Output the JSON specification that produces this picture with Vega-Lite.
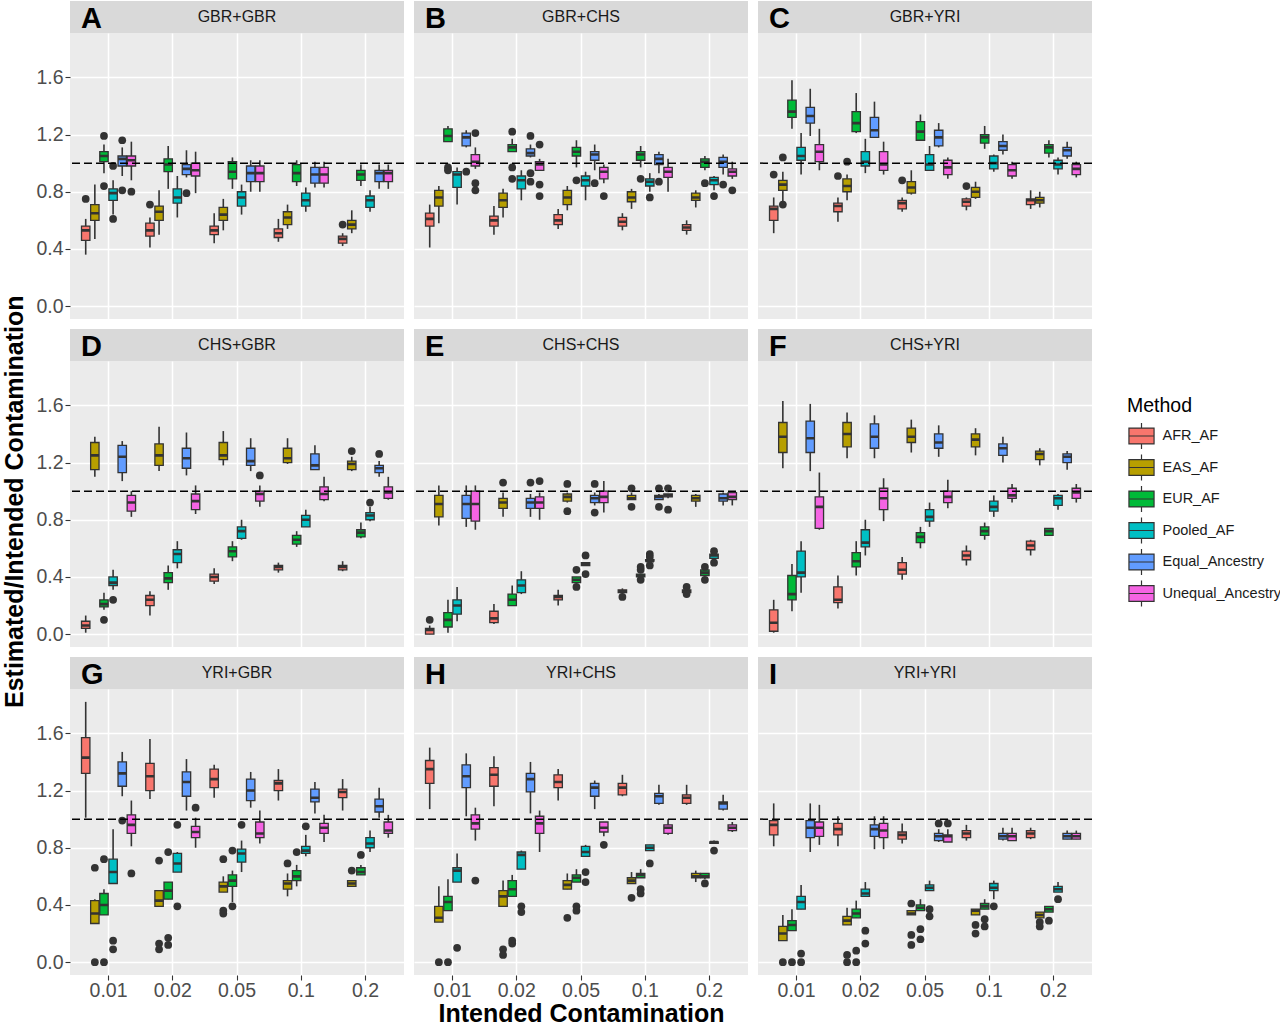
{
  "$schema": "https://vega.github.io/schema/vega-lite/v6.json",
  "background": "#FFFFFF",
  "padding": {"left": 2, "top": 1, "right": 0, "bottom": 0},
  "title": {"text": "Estimated/Intended Contamination", "orient": "left", "anchor": "middle", "font": "Liberation Sans", "fontSize": 25, "fontWeight": "bold", "color": "#000000", "offset": 8, "dx": 12},
  "datasets": {
    "strips": [
      {"p": "A", "label": "GBR+GBR"}, {"p": "B", "label": "GBR+CHS"}, {"p": "C", "label": "GBR+YRI"},
      {"p": "D", "label": "CHS+GBR"}, {"p": "E", "label": "CHS+CHS"}, {"p": "F", "label": "CHS+YRI"},
      {"p": "G", "label": "YRI+GBR"}, {"p": "H", "label": "YRI+CHS"}, {"p": "I", "label": "YRI+YRI"}
    ],
    "refline": [{"ref": 1}],
    "boxes": [
      {"p":"A","c":"0.01","m":"AFR_AF","lo":0.36,"q1":0.46,"md":0.53,"q3":0.56,"hi":0.61},
      {"p":"A","c":"0.01","m":"EAS_AF","lo":0.47,"q1":0.60,"md":0.65,"q3":0.71,"hi":0.85},
      {"p":"A","c":"0.01","m":"EUR_AF","lo":0.93,"q1":1.01,"md":1.05,"q3":1.08,"hi":1.13},
      {"p":"A","c":"0.01","m":"Pooled_AF","lo":0.64,"q1":0.74,"md":0.79,"q3":0.82,"hi":0.88},
      {"p":"A","c":"0.01","m":"Equal_Ancestry","lo":0.91,"q1":0.98,"md":1.03,"q3":1.05,"hi":1.11},
      {"p":"A","c":"0.01","m":"Unequal_Ancestry","lo":0.88,"q1":0.98,"md":1.02,"q3":1.05,"hi":1.15},
      {"p":"A","c":"0.02","m":"AFR_AF","lo":0.41,"q1":0.49,"md":0.53,"q3":0.58,"hi":0.62},
      {"p":"A","c":"0.02","m":"EAS_AF","lo":0.50,"q1":0.60,"md":0.66,"q3":0.70,"hi":0.81},
      {"p":"A","c":"0.02","m":"EUR_AF","lo":0.82,"q1":0.94,"md":0.99,"q3":1.03,"hi":1.12},
      {"p":"A","c":"0.02","m":"Pooled_AF","lo":0.62,"q1":0.72,"md":0.76,"q3":0.82,"hi":0.91},
      {"p":"A","c":"0.02","m":"Equal_Ancestry","lo":0.90,"q1":0.92,"md":0.96,"q3":0.99,"hi":1.09},
      {"p":"A","c":"0.02","m":"Unequal_Ancestry","lo":0.79,"q1":0.91,"md":0.95,"q3":1.00,"hi":1.08},
      {"p":"A","c":"0.05","m":"AFR_AF","lo":0.44,"q1":0.50,"md":0.53,"q3":0.56,"hi":0.65},
      {"p":"A","c":"0.05","m":"EAS_AF","lo":0.53,"q1":0.60,"md":0.64,"q3":0.69,"hi":0.75},
      {"p":"A","c":"0.05","m":"EUR_AF","lo":0.82,"q1":0.89,"md":0.94,"q3":1.01,"hi":1.04},
      {"p":"A","c":"0.05","m":"Pooled_AF","lo":0.64,"q1":0.70,"md":0.76,"q3":0.80,"hi":0.85},
      {"p":"A","c":"0.05","m":"Equal_Ancestry","lo":0.80,"q1":0.87,"md":0.93,"q3":0.98,"hi":1.02},
      {"p":"A","c":"0.05","m":"Unequal_Ancestry","lo":0.80,"q1":0.87,"md":0.93,"q3":0.98,"hi":1.02},
      {"p":"A","c":"0.1","m":"AFR_AF","lo":0.45,"q1":0.48,"md":0.51,"q3":0.54,"hi":0.61},
      {"p":"A","c":"0.1","m":"EAS_AF","lo":0.54,"q1":0.57,"md":0.62,"q3":0.66,"hi":0.71},
      {"p":"A","c":"0.1","m":"EUR_AF","lo":0.84,"q1":0.87,"md":0.93,"q3":0.99,"hi":1.02},
      {"p":"A","c":"0.1","m":"Pooled_AF","lo":0.66,"q1":0.70,"md":0.74,"q3":0.79,"hi":0.83},
      {"p":"A","c":"0.1","m":"Equal_Ancestry","lo":0.83,"q1":0.86,"md":0.92,"q3":0.97,"hi":1.01},
      {"p":"A","c":"0.1","m":"Unequal_Ancestry","lo":0.83,"q1":0.86,"md":0.92,"q3":0.97,"hi":1.01},
      {"p":"A","c":"0.2","m":"AFR_AF","lo":0.42,"q1":0.44,"md":0.47,"q3":0.49,"hi":0.51},
      {"p":"A","c":"0.2","m":"EAS_AF","lo":0.51,"q1":0.54,"md":0.57,"q3":0.60,"hi":0.67},
      {"p":"A","c":"0.2","m":"EUR_AF","lo":0.84,"q1":0.88,"md":0.92,"q3":0.95,"hi":0.99},
      {"p":"A","c":"0.2","m":"Pooled_AF","lo":0.66,"q1":0.69,"md":0.74,"q3":0.77,"hi":0.81},
      {"p":"A","c":"0.2","m":"Equal_Ancestry","lo":0.82,"q1":0.87,"md":0.93,"q3":0.95,"hi":0.99},
      {"p":"A","c":"0.2","m":"Unequal_Ancestry","lo":0.82,"q1":0.87,"md":0.93,"q3":0.95,"hi":0.99},

      {"p":"B","c":"0.01","m":"AFR_AF","lo":0.41,"q1":0.56,"md":0.61,"q3":0.65,"hi":0.71},
      {"p":"B","c":"0.01","m":"EAS_AF","lo":0.58,"q1":0.70,"md":0.76,"q3":0.81,"hi":0.84},
      {"p":"B","c":"0.01","m":"EUR_AF","lo":1.15,"q1":1.15,"md":1.19,"q3":1.24,"hi":1.26},
      {"p":"B","c":"0.01","m":"Pooled_AF","lo":0.71,"q1":0.83,"md":0.92,"q3":0.94,"hi":0.97},
      {"p":"B","c":"0.01","m":"Equal_Ancestry","lo":1.11,"q1":1.12,"md":1.18,"q3":1.21,"hi":1.23},
      {"p":"B","c":"0.01","m":"Unequal_Ancestry","lo":0.96,"q1":0.98,"md":1.01,"q3":1.06,"hi":1.11},
      {"p":"B","c":"0.02","m":"AFR_AF","lo":0.50,"q1":0.56,"md":0.60,"q3":0.63,"hi":0.70},
      {"p":"B","c":"0.02","m":"EAS_AF","lo":0.62,"q1":0.69,"md":0.74,"q3":0.79,"hi":0.82},
      {"p":"B","c":"0.02","m":"EUR_AF","lo":1.08,"q1":1.08,"md":1.11,"q3":1.13,"hi":1.17},
      {"p":"B","c":"0.02","m":"Pooled_AF","lo":0.74,"q1":0.82,"md":0.88,"q3":0.91,"hi":0.95},
      {"p":"B","c":"0.02","m":"Equal_Ancestry","lo":1.04,"q1":1.05,"md":1.07,"q3":1.10,"hi":1.13},
      {"p":"B","c":"0.02","m":"Unequal_Ancestry","lo":0.95,"q1":0.95,"md":0.99,"q3":1.01,"hi":1.03},
      {"p":"B","c":"0.05","m":"AFR_AF","lo":0.54,"q1":0.57,"md":0.60,"q3":0.64,"hi":0.68},
      {"p":"B","c":"0.05","m":"EAS_AF","lo":0.67,"q1":0.71,"md":0.76,"q3":0.81,"hi":0.84},
      {"p":"B","c":"0.05","m":"EUR_AF","lo":0.97,"q1":1.05,"md":1.08,"q3":1.11,"hi":1.16},
      {"p":"B","c":"0.05","m":"Pooled_AF","lo":0.74,"q1":0.84,"md":0.88,"q3":0.91,"hi":0.94},
      {"p":"B","c":"0.05","m":"Equal_Ancestry","lo":0.95,"q1":1.02,"md":1.06,"q3":1.08,"hi":1.13},
      {"p":"B","c":"0.05","m":"Unequal_Ancestry","lo":0.86,"q1":0.89,"md":0.94,"q3":0.97,"hi":0.99},
      {"p":"B","c":"0.1","m":"AFR_AF","lo":0.53,"q1":0.56,"md":0.59,"q3":0.62,"hi":0.65},
      {"p":"B","c":"0.1","m":"EAS_AF","lo":0.68,"q1":0.73,"md":0.76,"q3":0.80,"hi":0.82},
      {"p":"B","c":"0.1","m":"EUR_AF","lo":0.97,"q1":1.02,"md":1.06,"q3":1.08,"hi":1.12},
      {"p":"B","c":"0.1","m":"Pooled_AF","lo":0.80,"q1":0.84,"md":0.87,"q3":0.89,"hi":0.93},
      {"p":"B","c":"0.1","m":"Equal_Ancestry","lo":0.93,"q1":0.99,"md":1.03,"q3":1.06,"hi":1.08},
      {"p":"B","c":"0.1","m":"Unequal_Ancestry","lo":0.80,"q1":0.90,"md":0.94,"q3":0.97,"hi":1.03},
      {"p":"B","c":"0.2","m":"AFR_AF","lo":0.50,"q1":0.53,"md":0.55,"q3":0.57,"hi":0.60},
      {"p":"B","c":"0.2","m":"EAS_AF","lo":0.69,"q1":0.74,"md":0.76,"q3":0.79,"hi":0.81},
      {"p":"B","c":"0.2","m":"EUR_AF","lo":0.95,"q1":0.97,"md":1.01,"q3":1.03,"hi":1.05},
      {"p":"B","c":"0.2","m":"Pooled_AF","lo":0.81,"q1":0.85,"md":0.88,"q3":0.90,"hi":0.91},
      {"p":"B","c":"0.2","m":"Equal_Ancestry","lo":0.92,"q1":0.97,"md":1.01,"q3":1.04,"hi":1.06},
      {"p":"B","c":"0.2","m":"Unequal_Ancestry","lo":0.89,"q1":0.91,"md":0.94,"q3":0.96,"hi":1.01},

      {"p":"C","c":"0.01","m":"AFR_AF","lo":0.51,"q1":0.60,"md":0.68,"q3":0.70,"hi":0.76},
      {"p":"C","c":"0.01","m":"EAS_AF","lo":0.73,"q1":0.81,"md":0.85,"q3":0.88,"hi":0.94},
      {"p":"C","c":"0.01","m":"EUR_AF","lo":1.24,"q1":1.32,"md":1.36,"q3":1.44,"hi":1.58},
      {"p":"C","c":"0.01","m":"Pooled_AF","lo":0.92,"q1":1.02,"md":1.05,"q3":1.11,"hi":1.21},
      {"p":"C","c":"0.01","m":"Equal_Ancestry","lo":1.19,"q1":1.28,"md":1.33,"q3":1.39,"hi":1.52},
      {"p":"C","c":"0.01","m":"Unequal_Ancestry","lo":0.95,"q1":1.01,"md":1.08,"q3":1.13,"hi":1.24},
      {"p":"C","c":"0.02","m":"AFR_AF","lo":0.59,"q1":0.66,"md":0.70,"q3":0.72,"hi":0.76},
      {"p":"C","c":"0.02","m":"EAS_AF","lo":0.74,"q1":0.80,"md":0.84,"q3":0.89,"hi":0.92},
      {"p":"C","c":"0.02","m":"EUR_AF","lo":1.21,"q1":1.22,"md":1.28,"q3":1.36,"hi":1.49},
      {"p":"C","c":"0.02","m":"Pooled_AF","lo":0.93,"q1":0.98,"md":1.01,"q3":1.08,"hi":1.17},
      {"p":"C","c":"0.02","m":"Equal_Ancestry","lo":1.18,"q1":1.18,"md":1.23,"q3":1.32,"hi":1.43},
      {"p":"C","c":"0.02","m":"Unequal_Ancestry","lo":0.92,"q1":0.95,"md":0.99,"q3":1.08,"hi":1.15},
      {"p":"C","c":"0.05","m":"AFR_AF","lo":0.66,"q1":0.68,"md":0.72,"q3":0.74,"hi":0.76},
      {"p":"C","c":"0.05","m":"EAS_AF","lo":0.78,"q1":0.79,"md":0.83,"q3":0.87,"hi":0.95},
      {"p":"C","c":"0.05","m":"EUR_AF","lo":1.16,"q1":1.16,"md":1.22,"q3":1.29,"hi":1.34},
      {"p":"C","c":"0.05","m":"Pooled_AF","lo":0.95,"q1":0.95,"md":0.99,"q3":1.06,"hi":1.12},
      {"p":"C","c":"0.05","m":"Equal_Ancestry","lo":1.11,"q1":1.12,"md":1.18,"q3":1.23,"hi":1.28},
      {"p":"C","c":"0.05","m":"Unequal_Ancestry","lo":0.89,"q1":0.92,"md":0.97,"q3":1.02,"hi":1.04},
      {"p":"C","c":"0.1","m":"AFR_AF","lo":0.67,"q1":0.70,"md":0.73,"q3":0.75,"hi":0.76},
      {"p":"C","c":"0.1","m":"EAS_AF","lo":0.75,"q1":0.76,"md":0.80,"q3":0.83,"hi":0.87},
      {"p":"C","c":"0.1","m":"EUR_AF","lo":1.10,"q1":1.14,"md":1.18,"q3":1.20,"hi":1.26},
      {"p":"C","c":"0.1","m":"Pooled_AF","lo":0.94,"q1":0.96,"md":1.00,"q3":1.05,"hi":1.06},
      {"p":"C","c":"0.1","m":"Equal_Ancestry","lo":1.06,"q1":1.09,"md":1.12,"q3":1.15,"hi":1.20},
      {"p":"C","c":"0.1","m":"Unequal_Ancestry","lo":0.89,"q1":0.91,"md":0.95,"q3":0.99,"hi":1.01},
      {"p":"C","c":"0.2","m":"AFR_AF","lo":0.68,"q1":0.71,"md":0.74,"q3":0.75,"hi":0.81},
      {"p":"C","c":"0.2","m":"EAS_AF","lo":0.69,"q1":0.72,"md":0.74,"q3":0.76,"hi":0.80},
      {"p":"C","c":"0.2","m":"EUR_AF","lo":1.04,"q1":1.07,"md":1.11,"q3":1.13,"hi":1.16},
      {"p":"C","c":"0.2","m":"Pooled_AF","lo":0.92,"q1":0.96,"md":0.99,"q3":1.02,"hi":1.04},
      {"p":"C","c":"0.2","m":"Equal_Ancestry","lo":1.03,"q1":1.05,"md":1.09,"q3":1.11,"hi":1.15},
      {"p":"C","c":"0.2","m":"Unequal_Ancestry","lo":0.90,"q1":0.92,"md":0.96,"q3":0.99,"hi":1.01},

      {"p":"D","c":"0.01","m":"AFR_AF","lo":0.01,"q1":0.04,"md":0.06,"q3":0.09,"hi":0.13},
      {"p":"D","c":"0.01","m":"EAS_AF","lo":1.10,"q1":1.15,"md":1.25,"q3":1.34,"hi":1.38},
      {"p":"D","c":"0.01","m":"EUR_AF","lo":0.17,"q1":0.19,"md":0.21,"q3":0.24,"hi":0.29},
      {"p":"D","c":"0.01","m":"Pooled_AF","lo":0.31,"q1":0.34,"md":0.36,"q3":0.40,"hi":0.45},
      {"p":"D","c":"0.01","m":"Equal_Ancestry","lo":1.07,"q1":1.13,"md":1.24,"q3":1.32,"hi":1.35},
      {"p":"D","c":"0.01","m":"Unequal_Ancestry","lo":0.82,"q1":0.86,"md":0.92,"q3":0.97,"hi":1.00},
      {"p":"D","c":"0.02","m":"AFR_AF","lo":0.13,"q1":0.20,"md":0.24,"q3":0.27,"hi":0.30},
      {"p":"D","c":"0.02","m":"EAS_AF","lo":1.14,"q1":1.18,"md":1.25,"q3":1.33,"hi":1.45},
      {"p":"D","c":"0.02","m":"EUR_AF","lo":0.31,"q1":0.36,"md":0.39,"q3":0.43,"hi":0.48},
      {"p":"D","c":"0.02","m":"Pooled_AF","lo":0.46,"q1":0.50,"md":0.56,"q3":0.59,"hi":0.65},
      {"p":"D","c":"0.02","m":"Equal_Ancestry","lo":1.11,"q1":1.16,"md":1.23,"q3":1.30,"hi":1.41},
      {"p":"D","c":"0.02","m":"Unequal_Ancestry","lo":0.84,"q1":0.87,"md":0.93,"q3":0.98,"hi":1.04},
      {"p":"D","c":"0.05","m":"AFR_AF","lo":0.35,"q1":0.37,"md":0.40,"q3":0.42,"hi":0.46},
      {"p":"D","c":"0.05","m":"EAS_AF","lo":1.18,"q1":1.22,"md":1.25,"q3":1.34,"hi":1.42},
      {"p":"D","c":"0.05","m":"EUR_AF","lo":0.51,"q1":0.54,"md":0.58,"q3":0.61,"hi":0.65},
      {"p":"D","c":"0.05","m":"Pooled_AF","lo":0.66,"q1":0.67,"md":0.72,"q3":0.75,"hi":0.80},
      {"p":"D","c":"0.05","m":"Equal_Ancestry","lo":1.14,"q1":1.18,"md":1.21,"q3":1.30,"hi":1.37},
      {"p":"D","c":"0.05","m":"Unequal_Ancestry","lo":0.89,"q1":0.93,"md":0.98,"q3":1.00,"hi":1.04},
      {"p":"D","c":"0.1","m":"AFR_AF","lo":0.43,"q1":0.45,"md":0.47,"q3":0.48,"hi":0.50},
      {"p":"D","c":"0.1","m":"EAS_AF","lo":1.19,"q1":1.20,"md":1.23,"q3":1.30,"hi":1.37},
      {"p":"D","c":"0.1","m":"EUR_AF","lo":0.61,"q1":0.63,"md":0.66,"q3":0.69,"hi":0.72},
      {"p":"D","c":"0.1","m":"Pooled_AF","lo":0.75,"q1":0.75,"md":0.80,"q3":0.83,"hi":0.87},
      {"p":"D","c":"0.1","m":"Equal_Ancestry","lo":1.15,"q1":1.15,"md":1.18,"q3":1.26,"hi":1.32},
      {"p":"D","c":"0.1","m":"Unequal_Ancestry","lo":0.93,"q1":0.94,"md":0.98,"q3":1.03,"hi":1.10},
      {"p":"D","c":"0.2","m":"AFR_AF","lo":0.44,"q1":0.45,"md":0.47,"q3":0.48,"hi":0.51},
      {"p":"D","c":"0.2","m":"EAS_AF","lo":1.14,"q1":1.15,"md":1.19,"q3":1.21,"hi":1.24},
      {"p":"D","c":"0.2","m":"EUR_AF","lo":0.67,"q1":0.68,"md":0.71,"q3":0.73,"hi":0.78},
      {"p":"D","c":"0.2","m":"Pooled_AF","lo":0.79,"q1":0.80,"md":0.83,"q3":0.85,"hi":0.89},
      {"p":"D","c":"0.2","m":"Equal_Ancestry","lo":1.10,"q1":1.13,"md":1.16,"q3":1.18,"hi":1.21},
      {"p":"D","c":"0.2","m":"Unequal_Ancestry","lo":0.94,"q1":0.95,"md":0.99,"q3":1.03,"hi":1.10},

      {"p":"E","c":"0.01","m":"AFR_AF","lo":0.00,"q1":0.00,"md":0.03,"q3":0.04,"hi":0.06},
      {"p":"E","c":"0.01","m":"EAS_AF","lo":0.76,"q1":0.82,"md":0.91,"q3":0.97,"hi":1.04},
      {"p":"E","c":"0.01","m":"EUR_AF","lo":0.01,"q1":0.05,"md":0.10,"q3":0.15,"hi":0.24},
      {"p":"E","c":"0.01","m":"Pooled_AF","lo":0.09,"q1":0.14,"md":0.20,"q3":0.24,"hi":0.33},
      {"p":"E","c":"0.01","m":"Equal_Ancestry","lo":0.75,"q1":0.81,"md":0.91,"q3":0.97,"hi":1.04},
      {"p":"E","c":"0.01","m":"Unequal_Ancestry","lo":0.73,"q1":0.79,"md":0.91,"q3":1.00,"hi":1.04},
      {"p":"E","c":"0.02","m":"AFR_AF","lo":0.07,"q1":0.08,"md":0.11,"q3":0.16,"hi":0.21},
      {"p":"E","c":"0.02","m":"EAS_AF","lo":0.82,"q1":0.88,"md":0.92,"q3":0.95,"hi":0.99},
      {"p":"E","c":"0.02","m":"EUR_AF","lo":0.20,"q1":0.20,"md":0.24,"q3":0.28,"hi":0.34},
      {"p":"E","c":"0.02","m":"Pooled_AF","lo":0.28,"q1":0.29,"md":0.34,"q3":0.38,"hi":0.44},
      {"p":"E","c":"0.02","m":"Equal_Ancestry","lo":0.82,"q1":0.88,"md":0.92,"q3":0.95,"hi":0.98},
      {"p":"E","c":"0.02","m":"Unequal_Ancestry","lo":0.80,"q1":0.88,"md":0.92,"q3":0.96,"hi":0.99},
      {"p":"E","c":"0.05","m":"AFR_AF","lo":0.20,"q1":0.24,"md":0.26,"q3":0.27,"hi":0.31},
      {"p":"E","c":"0.05","m":"EAS_AF","lo":0.92,"q1":0.93,"md":0.96,"q3":0.98,"hi":0.99},
      {"p":"E","c":"0.05","m":"EUR_AF","lo":0.36,"q1":0.36,"md":0.38,"q3":0.40,"hi":0.40},
      {"p":"E","c":"0.05","m":"Pooled_AF","lo":0.48,"q1":0.48,"md":0.49,"q3":0.50,"hi":0.50},
      {"p":"E","c":"0.05","m":"Equal_Ancestry","lo":0.90,"q1":0.92,"md":0.95,"q3":0.97,"hi":0.99},
      {"p":"E","c":"0.05","m":"Unequal_Ancestry","lo":0.85,"q1":0.92,"md":0.96,"q3":1.00,"hi":1.07},
      {"p":"E","c":"0.1","m":"AFR_AF","lo":0.28,"q1":0.29,"md":0.30,"q3":0.31,"hi":0.32},
      {"p":"E","c":"0.1","m":"EAS_AF","lo":0.94,"q1":0.94,"md":0.95,"q3":0.97,"hi":0.99},
      {"p":"E","c":"0.1","m":"EUR_AF","lo":0.39,"q1":0.40,"md":0.41,"q3":0.42,"hi":0.42},
      {"p":"E","c":"0.1","m":"Pooled_AF","lo":0.50,"q1":0.51,"md":0.51,"q3":0.52,"hi":0.53},
      {"p":"E","c":"0.1","m":"Equal_Ancestry","lo":0.94,"q1":0.94,"md":0.96,"q3":0.97,"hi":0.98},
      {"p":"E","c":"0.1","m":"Unequal_Ancestry","lo":0.95,"q1":0.96,"md":0.97,"q3":0.98,"hi":0.98},
      {"p":"E","c":"0.2","m":"AFR_AF","lo":0.29,"q1":0.29,"md":0.30,"q3":0.31,"hi":0.31},
      {"p":"E","c":"0.2","m":"EAS_AF","lo":0.89,"q1":0.93,"md":0.95,"q3":0.97,"hi":0.98},
      {"p":"E","c":"0.2","m":"EUR_AF","lo":0.41,"q1":0.41,"md":0.43,"q3":0.45,"hi":0.45},
      {"p":"E","c":"0.2","m":"Pooled_AF","lo":0.53,"q1":0.53,"md":0.55,"q3":0.56,"hi":0.56},
      {"p":"E","c":"0.2","m":"Equal_Ancestry","lo":0.90,"q1":0.93,"md":0.95,"q3":0.98,"hi":0.99},
      {"p":"E","c":"0.2","m":"Unequal_Ancestry","lo":0.90,"q1":0.94,"md":0.96,"q3":0.99,"hi":1.00},

      {"p":"F","c":"0.01","m":"AFR_AF","lo":0.01,"q1":0.02,"md":0.08,"q3":0.17,"hi":0.24},
      {"p":"F","c":"0.01","m":"EAS_AF","lo":1.16,"q1":1.27,"md":1.38,"q3":1.48,"hi":1.63},
      {"p":"F","c":"0.01","m":"EUR_AF","lo":0.16,"q1":0.24,"md":0.28,"q3":0.41,"hi":0.49},
      {"p":"F","c":"0.01","m":"Pooled_AF","lo":0.29,"q1":0.40,"md":0.43,"q3":0.58,"hi":0.65},
      {"p":"F","c":"0.01","m":"Equal_Ancestry","lo":1.14,"q1":1.27,"md":1.37,"q3":1.49,"hi":1.61},
      {"p":"F","c":"0.01","m":"Unequal_Ancestry","lo":0.73,"q1":0.74,"md":0.89,"q3":0.96,"hi":1.13},
      {"p":"F","c":"0.02","m":"AFR_AF","lo":0.18,"q1":0.22,"md":0.24,"q3":0.33,"hi":0.41},
      {"p":"F","c":"0.02","m":"EAS_AF","lo":1.23,"q1":1.31,"md":1.40,"q3":1.48,"hi":1.55},
      {"p":"F","c":"0.02","m":"EUR_AF","lo":0.41,"q1":0.47,"md":0.51,"q3":0.57,"hi":0.65},
      {"p":"F","c":"0.02","m":"Pooled_AF","lo":0.55,"q1":0.61,"md":0.64,"q3":0.73,"hi":0.80},
      {"p":"F","c":"0.02","m":"Equal_Ancestry","lo":1.23,"q1":1.30,"md":1.38,"q3":1.47,"hi":1.53},
      {"p":"F","c":"0.02","m":"Unequal_Ancestry","lo":0.79,"q1":0.87,"md":0.95,"q3":1.02,"hi":1.09},
      {"p":"F","c":"0.05","m":"AFR_AF","lo":0.38,"q1":0.42,"md":0.45,"q3":0.50,"hi":0.54},
      {"p":"F","c":"0.05","m":"EAS_AF","lo":1.27,"q1":1.34,"md":1.38,"q3":1.44,"hi":1.50},
      {"p":"F","c":"0.05","m":"EUR_AF","lo":0.60,"q1":0.64,"md":0.68,"q3":0.71,"hi":0.75},
      {"p":"F","c":"0.05","m":"Pooled_AF","lo":0.75,"q1":0.79,"md":0.82,"q3":0.87,"hi":0.92},
      {"p":"F","c":"0.05","m":"Equal_Ancestry","lo":1.24,"q1":1.30,"md":1.34,"q3":1.40,"hi":1.46},
      {"p":"F","c":"0.05","m":"Unequal_Ancestry","lo":0.88,"q1":0.92,"md":0.96,"q3":1.00,"hi":1.08},
      {"p":"F","c":"0.1","m":"AFR_AF","lo":0.48,"q1":0.52,"md":0.55,"q3":0.58,"hi":0.62},
      {"p":"F","c":"0.1","m":"EAS_AF","lo":1.25,"q1":1.31,"md":1.36,"q3":1.40,"hi":1.44},
      {"p":"F","c":"0.1","m":"EUR_AF","lo":0.66,"q1":0.69,"md":0.72,"q3":0.75,"hi":0.78},
      {"p":"F","c":"0.1","m":"Pooled_AF","lo":0.82,"q1":0.86,"md":0.89,"q3":0.93,"hi":0.97},
      {"p":"F","c":"0.1","m":"Equal_Ancestry","lo":1.20,"q1":1.25,"md":1.30,"q3":1.33,"hi":1.38},
      {"p":"F","c":"0.1","m":"Unequal_Ancestry","lo":0.92,"q1":0.95,"md":0.97,"q3":1.02,"hi":1.05},
      {"p":"F","c":"0.2","m":"AFR_AF","lo":0.55,"q1":0.59,"md":0.62,"q3":0.65,"hi":0.66},
      {"p":"F","c":"0.2","m":"EAS_AF","lo":1.18,"q1":1.22,"md":1.26,"q3":1.28,"hi":1.30},
      {"p":"F","c":"0.2","m":"EUR_AF","lo":0.69,"q1":0.69,"md":0.72,"q3":0.74,"hi":0.74},
      {"p":"F","c":"0.2","m":"Pooled_AF","lo":0.87,"q1":0.90,"md":0.95,"q3":0.97,"hi":0.98},
      {"p":"F","c":"0.2","m":"Equal_Ancestry","lo":1.15,"q1":1.20,"md":1.24,"q3":1.26,"hi":1.28},
      {"p":"F","c":"0.2","m":"Unequal_Ancestry","lo":0.92,"q1":0.95,"md":0.99,"q3":1.02,"hi":1.05},

      {"p":"G","c":"0.01","m":"AFR_AF","lo":1.01,"q1":1.32,"md":1.43,"q3":1.57,"hi":1.82},
      {"p":"G","c":"0.01","m":"EAS_AF","lo":0.27,"q1":0.27,"md":0.34,"q3":0.43,"hi":0.44},
      {"p":"G","c":"0.01","m":"EUR_AF","lo":0.33,"q1":0.33,"md":0.40,"q3":0.48,"hi":0.51},
      {"p":"G","c":"0.01","m":"Pooled_AF","lo":0.55,"q1":0.55,"md":0.63,"q3":0.72,"hi":0.93},
      {"p":"G","c":"0.01","m":"Equal_Ancestry","lo":1.16,"q1":1.23,"md":1.32,"q3":1.40,"hi":1.47},
      {"p":"G","c":"0.01","m":"Unequal_Ancestry","lo":0.81,"q1":0.90,"md":0.96,"q3":1.03,"hi":1.13},
      {"p":"G","c":"0.02","m":"AFR_AF","lo":1.14,"q1":1.20,"md":1.30,"q3":1.39,"hi":1.56},
      {"p":"G","c":"0.02","m":"EAS_AF","lo":0.39,"q1":0.39,"md":0.43,"q3":0.50,"hi":0.50},
      {"p":"G","c":"0.02","m":"EUR_AF","lo":0.44,"q1":0.44,"md":0.50,"q3":0.56,"hi":0.56},
      {"p":"G","c":"0.02","m":"Pooled_AF","lo":0.63,"q1":0.63,"md":0.69,"q3":0.76,"hi":0.77},
      {"p":"G","c":"0.02","m":"Equal_Ancestry","lo":1.06,"q1":1.16,"md":1.26,"q3":1.33,"hi":1.42},
      {"p":"G","c":"0.02","m":"Unequal_Ancestry","lo":0.80,"q1":0.87,"md":0.91,"q3":0.95,"hi":1.01},
      {"p":"G","c":"0.05","m":"AFR_AF","lo":1.15,"q1":1.22,"md":1.28,"q3":1.35,"hi":1.38},
      {"p":"G","c":"0.05","m":"EAS_AF","lo":0.49,"q1":0.49,"md":0.53,"q3":0.56,"hi":0.60},
      {"p":"G","c":"0.05","m":"EUR_AF","lo":0.42,"q1":0.53,"md":0.57,"q3":0.61,"hi":0.64},
      {"p":"G","c":"0.05","m":"Pooled_AF","lo":0.63,"q1":0.70,"md":0.76,"q3":0.79,"hi":0.85},
      {"p":"G","c":"0.05","m":"Equal_Ancestry","lo":1.08,"q1":1.13,"md":1.20,"q3":1.28,"hi":1.33},
      {"p":"G","c":"0.05","m":"Unequal_Ancestry","lo":0.83,"q1":0.87,"md":0.90,"q3":0.98,"hi":1.06},
      {"p":"G","c":"0.1","m":"AFR_AF","lo":1.13,"q1":1.20,"md":1.25,"q3":1.27,"hi":1.35},
      {"p":"G","c":"0.1","m":"EAS_AF","lo":0.46,"q1":0.51,"md":0.55,"q3":0.57,"hi":0.62},
      {"p":"G","c":"0.1","m":"EUR_AF","lo":0.53,"q1":0.57,"md":0.60,"q3":0.64,"hi":0.68},
      {"p":"G","c":"0.1","m":"Pooled_AF","lo":0.74,"q1":0.76,"md":0.78,"q3":0.81,"hi":0.89},
      {"p":"G","c":"0.1","m":"Equal_Ancestry","lo":1.04,"q1":1.12,"md":1.15,"q3":1.21,"hi":1.26},
      {"p":"G","c":"0.1","m":"Unequal_Ancestry","lo":0.84,"q1":0.90,"md":0.94,"q3":0.97,"hi":1.03},
      {"p":"G","c":"0.2","m":"AFR_AF","lo":1.06,"q1":1.15,"md":1.19,"q3":1.21,"hi":1.28},
      {"p":"G","c":"0.2","m":"EAS_AF","lo":0.53,"q1":0.53,"md":0.55,"q3":0.57,"hi":0.57},
      {"p":"G","c":"0.2","m":"EUR_AF","lo":0.61,"q1":0.61,"md":0.63,"q3":0.66,"hi":0.68},
      {"p":"G","c":"0.2","m":"Pooled_AF","lo":0.77,"q1":0.80,"md":0.83,"q3":0.87,"hi":0.92},
      {"p":"G","c":"0.2","m":"Equal_Ancestry","lo":1.01,"q1":1.05,"md":1.09,"q3":1.14,"hi":1.22},
      {"p":"G","c":"0.2","m":"Unequal_Ancestry","lo":0.87,"q1":0.90,"md":0.92,"q3":0.98,"hi":1.03},

      {"p":"H","c":"0.01","m":"AFR_AF","lo":1.07,"q1":1.25,"md":1.35,"q3":1.41,"hi":1.50},
      {"p":"H","c":"0.01","m":"EAS_AF","lo":0.28,"q1":0.28,"md":0.31,"q3":0.39,"hi":0.53},
      {"p":"H","c":"0.01","m":"EUR_AF","lo":0.36,"q1":0.36,"md":0.42,"q3":0.46,"hi":0.58},
      {"p":"H","c":"0.01","m":"Pooled_AF","lo":0.56,"q1":0.56,"md":0.64,"q3":0.66,"hi":0.76},
      {"p":"H","c":"0.01","m":"Equal_Ancestry","lo":1.02,"q1":1.22,"md":1.30,"q3":1.38,"hi":1.46},
      {"p":"H","c":"0.01","m":"Unequal_Ancestry","lo":0.85,"q1":0.93,"md":0.97,"q3":1.03,"hi":1.08},
      {"p":"H","c":"0.02","m":"AFR_AF","lo":1.09,"q1":1.23,"md":1.31,"q3":1.36,"hi":1.44},
      {"p":"H","c":"0.02","m":"EAS_AF","lo":0.39,"q1":0.39,"md":0.46,"q3":0.50,"hi":0.57},
      {"p":"H","c":"0.02","m":"EUR_AF","lo":0.46,"q1":0.46,"md":0.51,"q3":0.57,"hi":0.61},
      {"p":"H","c":"0.02","m":"Pooled_AF","lo":0.65,"q1":0.65,"md":0.75,"q3":0.77,"hi":0.78},
      {"p":"H","c":"0.02","m":"Equal_Ancestry","lo":1.04,"q1":1.19,"md":1.28,"q3":1.32,"hi":1.40},
      {"p":"H","c":"0.02","m":"Unequal_Ancestry","lo":0.77,"q1":0.90,"md":0.97,"q3":1.02,"hi":1.06},
      {"p":"H","c":"0.05","m":"AFR_AF","lo":1.13,"q1":1.22,"md":1.26,"q3":1.31,"hi":1.35},
      {"p":"H","c":"0.05","m":"EAS_AF","lo":0.51,"q1":0.51,"md":0.54,"q3":0.57,"hi":0.62},
      {"p":"H","c":"0.05","m":"EUR_AF","lo":0.56,"q1":0.56,"md":0.59,"q3":0.61,"hi":0.65},
      {"p":"H","c":"0.05","m":"Pooled_AF","lo":0.74,"q1":0.74,"md":0.77,"q3":0.81,"hi":0.82},
      {"p":"H","c":"0.05","m":"Equal_Ancestry","lo":1.07,"q1":1.16,"md":1.22,"q3":1.25,"hi":1.27},
      {"p":"H","c":"0.05","m":"Unequal_Ancestry","lo":0.88,"q1":0.91,"md":0.94,"q3":0.98,"hi":0.98},
      {"p":"H","c":"0.1","m":"AFR_AF","lo":1.16,"q1":1.17,"md":1.22,"q3":1.25,"hi":1.31},
      {"p":"H","c":"0.1","m":"EAS_AF","lo":0.55,"q1":0.55,"md":0.57,"q3":0.59,"hi":0.63},
      {"p":"H","c":"0.1","m":"EUR_AF","lo":0.59,"q1":0.59,"md":0.61,"q3":0.62,"hi":0.65},
      {"p":"H","c":"0.1","m":"Pooled_AF","lo":0.78,"q1":0.78,"md":0.80,"q3":0.82,"hi":0.82},
      {"p":"H","c":"0.1","m":"Equal_Ancestry","lo":1.10,"q1":1.11,"md":1.16,"q3":1.18,"hi":1.24},
      {"p":"H","c":"0.1","m":"Unequal_Ancestry","lo":0.89,"q1":0.90,"md":0.94,"q3":0.96,"hi":1.00},
      {"p":"H","c":"0.2","m":"AFR_AF","lo":1.10,"q1":1.11,"md":1.15,"q3":1.17,"hi":1.24},
      {"p":"H","c":"0.2","m":"EAS_AF","lo":0.56,"q1":0.59,"md":0.60,"q3":0.62,"hi":0.64},
      {"p":"H","c":"0.2","m":"EUR_AF","lo":0.58,"q1":0.59,"md":0.60,"q3":0.62,"hi":0.62},
      {"p":"H","c":"0.2","m":"Pooled_AF","lo":0.83,"q1":0.83,"md":0.84,"q3":0.84,"hi":0.85},
      {"p":"H","c":"0.2","m":"Equal_Ancestry","lo":1.06,"q1":1.07,"md":1.11,"q3":1.12,"hi":1.17},
      {"p":"H","c":"0.2","m":"Unequal_Ancestry","lo":0.91,"q1":0.92,"md":0.94,"q3":0.96,"hi":0.98},

      {"p":"I","c":"0.01","m":"AFR_AF","lo":0.81,"q1":0.89,"md":0.96,"q3":0.99,"hi":1.11},
      {"p":"I","c":"0.01","m":"EAS_AF","lo":0.15,"q1":0.15,"md":0.20,"q3":0.25,"hi":0.33},
      {"p":"I","c":"0.01","m":"EUR_AF","lo":0.22,"q1":0.22,"md":0.26,"q3":0.29,"hi":0.37},
      {"p":"I","c":"0.01","m":"Pooled_AF","lo":0.37,"q1":0.37,"md":0.42,"q3":0.46,"hi":0.54},
      {"p":"I","c":"0.01","m":"Equal_Ancestry","lo":0.77,"q1":0.87,"md":0.94,"q3":0.99,"hi":1.11},
      {"p":"I","c":"0.01","m":"Unequal_Ancestry","lo":0.82,"q1":0.88,"md":0.94,"q3":0.98,"hi":1.10},
      {"p":"I","c":"0.02","m":"AFR_AF","lo":0.81,"q1":0.89,"md":0.93,"q3":0.97,"hi":1.02},
      {"p":"I","c":"0.02","m":"EAS_AF","lo":0.26,"q1":0.26,"md":0.29,"q3":0.32,"hi":0.38},
      {"p":"I","c":"0.02","m":"EUR_AF","lo":0.31,"q1":0.31,"md":0.34,"q3":0.37,"hi":0.43},
      {"p":"I","c":"0.02","m":"Pooled_AF","lo":0.46,"q1":0.46,"md":0.48,"q3":0.51,"hi":0.56},
      {"p":"I","c":"0.02","m":"Equal_Ancestry","lo":0.79,"q1":0.88,"md":0.93,"q3":0.96,"hi":1.02},
      {"p":"I","c":"0.02","m":"Unequal_Ancestry","lo":0.79,"q1":0.87,"md":0.92,"q3":0.97,"hi":1.02},
      {"p":"I","c":"0.05","m":"AFR_AF","lo":0.83,"q1":0.86,"md":0.89,"q3":0.91,"hi":0.97},
      {"p":"I","c":"0.05","m":"EAS_AF","lo":0.33,"q1":0.33,"md":0.34,"q3":0.36,"hi":0.36},
      {"p":"I","c":"0.05","m":"EUR_AF","lo":0.36,"q1":0.36,"md":0.38,"q3":0.40,"hi":0.44},
      {"p":"I","c":"0.05","m":"Pooled_AF","lo":0.50,"q1":0.50,"md":0.52,"q3":0.54,"hi":0.57},
      {"p":"I","c":"0.05","m":"Equal_Ancestry","lo":0.84,"q1":0.85,"md":0.88,"q3":0.90,"hi":0.93},
      {"p":"I","c":"0.05","m":"Unequal_Ancestry","lo":0.84,"q1":0.84,"md":0.88,"q3":0.89,"hi":0.93},
      {"p":"I","c":"0.1","m":"AFR_AF","lo":0.85,"q1":0.87,"md":0.90,"q3":0.92,"hi":0.96},
      {"p":"I","c":"0.1","m":"EAS_AF","lo":0.33,"q1":0.33,"md":0.36,"q3":0.37,"hi":0.37},
      {"p":"I","c":"0.1","m":"EUR_AF","lo":0.37,"q1":0.37,"md":0.39,"q3":0.41,"hi":0.44},
      {"p":"I","c":"0.1","m":"Pooled_AF","lo":0.44,"q1":0.50,"md":0.52,"q3":0.55,"hi":0.57},
      {"p":"I","c":"0.1","m":"Equal_Ancestry","lo":0.85,"q1":0.86,"md":0.88,"q3":0.90,"hi":0.94},
      {"p":"I","c":"0.1","m":"Unequal_Ancestry","lo":0.85,"q1":0.85,"md":0.88,"q3":0.90,"hi":0.94},
      {"p":"I","c":"0.2","m":"AFR_AF","lo":0.86,"q1":0.87,"md":0.90,"q3":0.92,"hi":0.94},
      {"p":"I","c":"0.2","m":"EAS_AF","lo":0.31,"q1":0.31,"md":0.33,"q3":0.35,"hi":0.35},
      {"p":"I","c":"0.2","m":"EUR_AF","lo":0.35,"q1":0.35,"md":0.37,"q3":0.39,"hi":0.39},
      {"p":"I","c":"0.2","m":"Pooled_AF","lo":0.49,"q1":0.49,"md":0.51,"q3":0.53,"hi":0.56},
      {"p":"I","c":"0.2","m":"Equal_Ancestry","lo":0.86,"q1":0.86,"md":0.88,"q3":0.90,"hi":0.92},
      {"p":"I","c":"0.2","m":"Unequal_Ancestry","lo":0.86,"q1":0.86,"md":0.88,"q3":0.90,"hi":0.92}
    ],
    "outliers": [
      {"p":"A","c":"0.01","m":"AFR_AF","v":0.75},
      {"p":"A","c":"0.01","m":"EUR_AF","v":1.19},
      {"p":"A","c":"0.01","m":"EUR_AF","v":0.84},
      {"p":"A","c":"0.01","m":"Pooled_AF","v":0.98},
      {"p":"A","c":"0.01","m":"Pooled_AF","v":0.61},
      {"p":"A","c":"0.01","m":"Equal_Ancestry","v":1.16},
      {"p":"A","c":"0.01","m":"Equal_Ancestry","v":0.81},
      {"p":"A","c":"0.01","m":"Unequal_Ancestry","v":0.80},
      {"p":"A","c":"0.02","m":"AFR_AF","v":0.71},
      {"p":"A","c":"0.02","m":"Equal_Ancestry","v":0.79},
      {"p":"A","c":"0.2","m":"AFR_AF","v":0.57},

      {"p":"B","c":"0.01","m":"EUR_AF","v":0.97},
      {"p":"B","c":"0.01","m":"EUR_AF","v":0.95},
      {"p":"B","c":"0.01","m":"Equal_Ancestry","v":0.94},
      {"p":"B","c":"0.01","m":"Unequal_Ancestry","v":1.21},
      {"p":"B","c":"0.01","m":"Unequal_Ancestry","v":0.86},
      {"p":"B","c":"0.01","m":"Unequal_Ancestry","v":0.81},
      {"p":"B","c":"0.02","m":"EUR_AF","v":1.22},
      {"p":"B","c":"0.02","m":"EUR_AF","v":0.97},
      {"p":"B","c":"0.02","m":"EUR_AF","v":0.89},
      {"p":"B","c":"0.02","m":"Equal_Ancestry","v":1.19},
      {"p":"B","c":"0.02","m":"Equal_Ancestry","v":0.93},
      {"p":"B","c":"0.02","m":"Equal_Ancestry","v":0.87},
      {"p":"B","c":"0.02","m":"Unequal_Ancestry","v":1.13},
      {"p":"B","c":"0.02","m":"Unequal_Ancestry","v":0.85},
      {"p":"B","c":"0.02","m":"Unequal_Ancestry","v":0.77},
      {"p":"B","c":"0.05","m":"EUR_AF","v":0.88},
      {"p":"B","c":"0.05","m":"Equal_Ancestry","v":0.86},
      {"p":"B","c":"0.05","m":"Unequal_Ancestry","v":0.77},
      {"p":"B","c":"0.1","m":"EUR_AF","v":0.89},
      {"p":"B","c":"0.1","m":"Pooled_AF","v":0.76},
      {"p":"B","c":"0.1","m":"Equal_Ancestry","v":0.87},
      {"p":"B","c":"0.2","m":"EUR_AF","v":0.86},
      {"p":"B","c":"0.2","m":"Pooled_AF","v":0.77},
      {"p":"B","c":"0.2","m":"Equal_Ancestry","v":0.85},
      {"p":"B","c":"0.2","m":"Unequal_Ancestry","v":0.81},

      {"p":"C","c":"0.01","m":"AFR_AF","v":0.92},
      {"p":"C","c":"0.01","m":"EAS_AF","v":1.04},
      {"p":"C","c":"0.01","m":"EAS_AF","v":0.71},
      {"p":"C","c":"0.02","m":"AFR_AF","v":0.91},
      {"p":"C","c":"0.02","m":"EAS_AF","v":1.01},
      {"p":"C","c":"0.05","m":"AFR_AF","v":0.88},
      {"p":"C","c":"0.1","m":"AFR_AF","v":0.84},

      {"p":"D","c":"0.01","m":"EUR_AF","v":0.10},
      {"p":"D","c":"0.01","m":"Pooled_AF","v":0.24},
      {"p":"D","c":"0.05","m":"Unequal_Ancestry","v":1.11},
      {"p":"D","c":"0.2","m":"EAS_AF","v":1.28},
      {"p":"D","c":"0.2","m":"Pooled_AF","v":0.92},
      {"p":"D","c":"0.2","m":"Equal_Ancestry","v":1.26},

      {"p":"E","c":"0.01","m":"AFR_AF","v":0.10},
      {"p":"E","c":"0.02","m":"EAS_AF","v":1.06},
      {"p":"E","c":"0.02","m":"Equal_Ancestry","v":1.06},
      {"p":"E","c":"0.02","m":"Unequal_Ancestry","v":1.07},
      {"p":"E","c":"0.05","m":"EAS_AF","v":1.05},
      {"p":"E","c":"0.05","m":"EAS_AF","v":0.86},
      {"p":"E","c":"0.05","m":"EUR_AF","v":0.45},
      {"p":"E","c":"0.05","m":"EUR_AF","v":0.33},
      {"p":"E","c":"0.05","m":"Pooled_AF","v":0.55},
      {"p":"E","c":"0.05","m":"Pooled_AF","v":0.42},
      {"p":"E","c":"0.05","m":"Equal_Ancestry","v":1.05},
      {"p":"E","c":"0.05","m":"Equal_Ancestry","v":0.85},
      {"p":"E","c":"0.1","m":"AFR_AF","v":0.26},
      {"p":"E","c":"0.1","m":"EAS_AF","v":1.02},
      {"p":"E","c":"0.1","m":"EAS_AF","v":0.89},
      {"p":"E","c":"0.1","m":"EUR_AF","v":0.47},
      {"p":"E","c":"0.1","m":"EUR_AF","v":0.45},
      {"p":"E","c":"0.1","m":"EUR_AF","v":0.38},
      {"p":"E","c":"0.1","m":"Pooled_AF","v":0.56},
      {"p":"E","c":"0.1","m":"Pooled_AF","v":0.54},
      {"p":"E","c":"0.1","m":"Pooled_AF","v":0.48},
      {"p":"E","c":"0.1","m":"Equal_Ancestry","v":1.02},
      {"p":"E","c":"0.1","m":"Equal_Ancestry","v":0.89},
      {"p":"E","c":"0.1","m":"Unequal_Ancestry","v":1.02},
      {"p":"E","c":"0.1","m":"Unequal_Ancestry","v":0.87},
      {"p":"E","c":"0.2","m":"AFR_AF","v":0.33},
      {"p":"E","c":"0.2","m":"AFR_AF","v":0.28},
      {"p":"E","c":"0.2","m":"EUR_AF","v":0.47},
      {"p":"E","c":"0.2","m":"EUR_AF","v":0.38},
      {"p":"E","c":"0.2","m":"Pooled_AF","v":0.58},
      {"p":"E","c":"0.2","m":"Pooled_AF","v":0.50},

      {"p":"G","c":"0.01","m":"EAS_AF","v":0.66},
      {"p":"G","c":"0.01","m":"EAS_AF","v":0.0},
      {"p":"G","c":"0.01","m":"EUR_AF","v":0.72},
      {"p":"G","c":"0.01","m":"EUR_AF","v":0.0},
      {"p":"G","c":"0.01","m":"Pooled_AF","v":0.15},
      {"p":"G","c":"0.01","m":"Pooled_AF","v":0.09},
      {"p":"G","c":"0.01","m":"Equal_Ancestry","v":0.99},
      {"p":"G","c":"0.01","m":"Unequal_Ancestry","v":0.62},
      {"p":"G","c":"0.02","m":"EAS_AF","v":0.71},
      {"p":"G","c":"0.02","m":"EAS_AF","v":0.13},
      {"p":"G","c":"0.02","m":"EAS_AF","v":0.09},
      {"p":"G","c":"0.02","m":"EUR_AF","v":0.77},
      {"p":"G","c":"0.02","m":"EUR_AF","v":0.17},
      {"p":"G","c":"0.02","m":"EUR_AF","v":0.12},
      {"p":"G","c":"0.02","m":"Pooled_AF","v":0.96},
      {"p":"G","c":"0.02","m":"Pooled_AF","v":0.39},
      {"p":"G","c":"0.02","m":"Unequal_Ancestry","v":1.08},
      {"p":"G","c":"0.05","m":"EAS_AF","v":0.72},
      {"p":"G","c":"0.05","m":"EAS_AF","v":0.36},
      {"p":"G","c":"0.05","m":"EAS_AF","v":0.34},
      {"p":"G","c":"0.05","m":"EUR_AF","v":0.78},
      {"p":"G","c":"0.05","m":"EUR_AF","v":0.39},
      {"p":"G","c":"0.05","m":"Pooled_AF","v":0.96},
      {"p":"G","c":"0.1","m":"EAS_AF","v":0.69},
      {"p":"G","c":"0.1","m":"EUR_AF","v":0.77},
      {"p":"G","c":"0.1","m":"Pooled_AF","v":0.95},
      {"p":"G","c":"0.2","m":"EAS_AF","v":0.64},
      {"p":"G","c":"0.2","m":"EUR_AF","v":0.75},

      {"p":"H","c":"0.01","m":"EAS_AF","v":0.0},
      {"p":"H","c":"0.01","m":"EUR_AF","v":0.0},
      {"p":"H","c":"0.01","m":"Pooled_AF","v":0.10},
      {"p":"H","c":"0.01","m":"Unequal_Ancestry","v":0.57},
      {"p":"H","c":"0.02","m":"EAS_AF","v":0.09},
      {"p":"H","c":"0.02","m":"EAS_AF","v":0.05},
      {"p":"H","c":"0.02","m":"EUR_AF","v":0.15},
      {"p":"H","c":"0.02","m":"EUR_AF","v":0.13},
      {"p":"H","c":"0.02","m":"Pooled_AF","v":0.39},
      {"p":"H","c":"0.02","m":"Pooled_AF","v":0.35},
      {"p":"H","c":"0.05","m":"EAS_AF","v":0.31},
      {"p":"H","c":"0.05","m":"EUR_AF","v":0.39},
      {"p":"H","c":"0.05","m":"EUR_AF","v":0.36},
      {"p":"H","c":"0.05","m":"Pooled_AF","v":0.63},
      {"p":"H","c":"0.05","m":"Pooled_AF","v":0.56},
      {"p":"H","c":"0.05","m":"Unequal_Ancestry","v":0.82},
      {"p":"H","c":"0.1","m":"EAS_AF","v":0.45},
      {"p":"H","c":"0.1","m":"EUR_AF","v":0.51},
      {"p":"H","c":"0.1","m":"EUR_AF","v":0.48},
      {"p":"H","c":"0.1","m":"Pooled_AF","v":0.69},
      {"p":"H","c":"0.2","m":"EUR_AF","v":0.55},
      {"p":"H","c":"0.2","m":"Pooled_AF","v":0.78},

      {"p":"I","c":"0.01","m":"EAS_AF","v":0.0},
      {"p":"I","c":"0.01","m":"EUR_AF","v":0.0},
      {"p":"I","c":"0.01","m":"Pooled_AF","v":0.06},
      {"p":"I","c":"0.01","m":"Pooled_AF","v":0.0},
      {"p":"I","c":"0.02","m":"EAS_AF","v":0.05},
      {"p":"I","c":"0.02","m":"EAS_AF","v":0.0},
      {"p":"I","c":"0.02","m":"EUR_AF","v":0.08},
      {"p":"I","c":"0.02","m":"EUR_AF","v":0.0},
      {"p":"I","c":"0.02","m":"Pooled_AF","v":0.22},
      {"p":"I","c":"0.02","m":"Pooled_AF","v":0.13},
      {"p":"I","c":"0.05","m":"EAS_AF","v":0.41},
      {"p":"I","c":"0.05","m":"EAS_AF","v":0.19},
      {"p":"I","c":"0.05","m":"EAS_AF","v":0.12},
      {"p":"I","c":"0.05","m":"EUR_AF","v":0.23},
      {"p":"I","c":"0.05","m":"EUR_AF","v":0.16},
      {"p":"I","c":"0.05","m":"Pooled_AF","v":0.37},
      {"p":"I","c":"0.05","m":"Pooled_AF","v":0.32},
      {"p":"I","c":"0.05","m":"Equal_Ancestry","v":0.97},
      {"p":"I","c":"0.05","m":"Unequal_Ancestry","v":0.97},
      {"p":"I","c":"0.1","m":"EAS_AF","v":0.26},
      {"p":"I","c":"0.1","m":"EAS_AF","v":0.20},
      {"p":"I","c":"0.1","m":"EUR_AF","v":0.30},
      {"p":"I","c":"0.1","m":"EUR_AF","v":0.25},
      {"p":"I","c":"0.1","m":"Pooled_AF","v":0.39},
      {"p":"I","c":"0.2","m":"EAS_AF","v":0.28},
      {"p":"I","c":"0.2","m":"EAS_AF","v":0.25},
      {"p":"I","c":"0.2","m":"EUR_AF","v":0.29},
      {"p":"I","c":"0.2","m":"Pooled_AF","v":0.44}
    ]
  },
  "vconcat": [
    {
      "hconcat": [
        {"vconcat": [
          {"width": 334, "height": 32, "view": {"fill": "#D9D9D9", "stroke": null}, "data": {"name": "strips"}, "transform": [{"filter": "datum.p === 'A'"}],
           "layer": [
             {"mark": {"type": "text", "font": "Liberation Sans", "fontSize": 16, "color": "#1A1A1A"}, "encoding": {"text": {"field": "label", "type": "nominal"}}},
             {"mark": {"type": "text", "font": "Liberation Sans", "fontSize": 29, "fontWeight": "bold", "align": "left", "dx": 11, "dy": 2, "color": "#000000"}, "encoding": {"x": {"datum": 0, "type": "quantitative", "scale": {"domain": [0, 1], "nice": false, "zero": false}, "axis": null}, "text": {"field": "p", "type": "nominal"}}}
           ]},
          {"width": 334, "height": 286, "layer": [
            {"encoding": {
               "x": {"field": "c", "type": "ordinal", "scale": {"domain": ["0.01", "0.02", "0.05", "0.1", "0.2"], "paddingInner": 0.147, "paddingOuter": 0.1735}, "axis": {"grid": true, "gridWidth": 1.5, "labels": false, "ticks": false, "title": null}},
               "xOffset": {"field": "m", "type": "nominal", "scale": {"domain": ["AFR_AF", "EAS_AF", "EUR_AF", "Pooled_AF", "Equal_Ancestry", "Unequal_Ancestry"], "paddingInner": 0.08, "paddingOuter": 0.04}}
             },
             "layer": [
               {"data": {"name": "boxes"}, "transform": [{"filter": "datum.p === 'A'"}], "mark": {"type": "rule", "color": "#333333", "strokeWidth": 1.6},
                "encoding": {"y": {"field": "lo", "type": "quantitative", "scale": {"domain": [-0.09, 1.91], "nice": false, "zero": false},
                  "axis": {"grid": true, "values": [0, 0.1, 0.2, 0.3, 0.4, 0.5, 0.6, 0.7, 0.8, 0.9, 1, 1.1, 1.2, 1.3, 1.4, 1.5, 1.6, 1.7, 1.8], "labelExpr": "(round(datum.value * 10) % 2 === 0 && datum.value < 1.7) ? format(datum.value, '.1f') : ''", "gridWidth": {"condition": {"test": "round(datum.value * 10) % 2 === 0 && datum.value < 1.7", "value": 1.5}, "value": 0.75}, "tickOpacity": {"condition": {"test": "round(datum.value * 10) % 2 === 0 && datum.value < 1.7", "value": 1}, "value": 0}, "title": null, "labelPadding": 2}},
                  "y2": {"field": "hi"}}},
               {"data": {"name": "boxes"}, "transform": [{"filter": "datum.p === 'A'"}], "mark": {"type": "bar", "stroke": "#333333", "strokeWidth": 1.3},
                "encoding": {"y": {"field": "q1", "type": "quantitative"}, "y2": {"field": "q3"},
                  "fill": {"field": "m", "type": "nominal", "title": "Method", "scale": {"domain": ["AFR_AF", "EAS_AF", "EUR_AF", "Pooled_AF", "Equal_Ancestry", "Unequal_Ancestry"], "range": ["#F8766D", "#B79F00", "#00BA38", "#00BFC4", "#619CFF", "#F564E3"]}}}},
               {"data": {"name": "boxes"}, "transform": [{"filter": "datum.p === 'A'"}], "mark": {"type": "bar", "fill": "#333333", "stroke": "#333333", "strokeWidth": 2.6},
                "encoding": {"y": {"field": "md", "type": "quantitative"}, "y2": {"field": "md"}}},
               {"data": {"name": "outliers"}, "transform": [{"filter": "datum.p === 'A'"}], "mark": {"type": "circle", "color": "#333333", "size": 60, "opacity": 1},
                "encoding": {"y": {"field": "v", "type": "quantitative"}}}
             ]},
            {"data": {"name": "refline"}, "mark": {"type": "rule", "color": "#000000", "strokeWidth": 1.5, "strokeDash": [8, 4]}, "encoding": {"y": {"field": "ref", "type": "quantitative"}}}
          ]}
        ], "spacing": 0, "bounds": "flush"},
        {"vconcat": [
          {"width": 334, "height": 32, "view": {"fill": "#D9D9D9", "stroke": null}, "data": {"name": "strips"}, "transform": [{"filter": "datum.p === 'B'"}],
           "layer": [
             {"mark": {"type": "text", "font": "Liberation Sans", "fontSize": 16, "color": "#1A1A1A"}, "encoding": {"text": {"field": "label", "type": "nominal"}}},
             {"mark": {"type": "text", "font": "Liberation Sans", "fontSize": 29, "fontWeight": "bold", "align": "left", "dx": 11, "dy": 2, "color": "#000000"}, "encoding": {"x": {"datum": 0, "type": "quantitative", "scale": {"domain": [0, 1], "nice": false, "zero": false}, "axis": null}, "text": {"field": "p", "type": "nominal"}}}
           ]},
          {"width": 334, "height": 286, "layer": [
            {"encoding": {
               "x": {"field": "c", "type": "ordinal", "scale": {"domain": ["0.01", "0.02", "0.05", "0.1", "0.2"], "paddingInner": 0.147, "paddingOuter": 0.1735}, "axis": {"grid": true, "gridWidth": 1.5, "labels": false, "ticks": false, "title": null}},
               "xOffset": {"field": "m", "type": "nominal", "scale": {"domain": ["AFR_AF", "EAS_AF", "EUR_AF", "Pooled_AF", "Equal_Ancestry", "Unequal_Ancestry"], "paddingInner": 0.08, "paddingOuter": 0.04}}
             },
             "layer": [
               {"data": {"name": "boxes"}, "transform": [{"filter": "datum.p === 'B'"}], "mark": {"type": "rule", "color": "#333333", "strokeWidth": 1.6},
                "encoding": {"y": {"field": "lo", "type": "quantitative", "scale": {"domain": [-0.09, 1.91], "nice": false, "zero": false},
                  "axis": {"grid": true, "values": [0, 0.1, 0.2, 0.3, 0.4, 0.5, 0.6, 0.7, 0.8, 0.9, 1, 1.1, 1.2, 1.3, 1.4, 1.5, 1.6, 1.7, 1.8], "labels": false, "ticks": false, "gridWidth": {"condition": {"test": "round(datum.value * 10) % 2 === 0 && datum.value < 1.7", "value": 1.5}, "value": 0.75}, "title": null}},
                  "y2": {"field": "hi"}}},
               {"data": {"name": "boxes"}, "transform": [{"filter": "datum.p === 'B'"}], "mark": {"type": "bar", "stroke": "#333333", "strokeWidth": 1.3},
                "encoding": {"y": {"field": "q1", "type": "quantitative"}, "y2": {"field": "q3"},
                  "fill": {"field": "m", "type": "nominal", "title": "Method", "scale": {"domain": ["AFR_AF", "EAS_AF", "EUR_AF", "Pooled_AF", "Equal_Ancestry", "Unequal_Ancestry"], "range": ["#F8766D", "#B79F00", "#00BA38", "#00BFC4", "#619CFF", "#F564E3"]}}}},
               {"data": {"name": "boxes"}, "transform": [{"filter": "datum.p === 'B'"}], "mark": {"type": "bar", "fill": "#333333", "stroke": "#333333", "strokeWidth": 2.6},
                "encoding": {"y": {"field": "md", "type": "quantitative"}, "y2": {"field": "md"}}},
               {"data": {"name": "outliers"}, "transform": [{"filter": "datum.p === 'B'"}], "mark": {"type": "circle", "color": "#333333", "size": 60, "opacity": 1},
                "encoding": {"y": {"field": "v", "type": "quantitative"}}}
             ]},
            {"data": {"name": "refline"}, "mark": {"type": "rule", "color": "#000000", "strokeWidth": 1.5, "strokeDash": [8, 4]}, "encoding": {"y": {"field": "ref", "type": "quantitative"}}}
          ]}
        ], "spacing": 0, "bounds": "flush"},
        {"vconcat": [
          {"width": 334, "height": 32, "view": {"fill": "#D9D9D9", "stroke": null}, "data": {"name": "strips"}, "transform": [{"filter": "datum.p === 'C'"}],
           "layer": [
             {"mark": {"type": "text", "font": "Liberation Sans", "fontSize": 16, "color": "#1A1A1A"}, "encoding": {"text": {"field": "label", "type": "nominal"}}},
             {"mark": {"type": "text", "font": "Liberation Sans", "fontSize": 29, "fontWeight": "bold", "align": "left", "dx": 11, "dy": 2, "color": "#000000"}, "encoding": {"x": {"datum": 0, "type": "quantitative", "scale": {"domain": [0, 1], "nice": false, "zero": false}, "axis": null}, "text": {"field": "p", "type": "nominal"}}}
           ]},
          {"width": 334, "height": 286, "layer": [
            {"encoding": {
               "x": {"field": "c", "type": "ordinal", "scale": {"domain": ["0.01", "0.02", "0.05", "0.1", "0.2"], "paddingInner": 0.147, "paddingOuter": 0.1735}, "axis": {"grid": true, "gridWidth": 1.5, "labels": false, "ticks": false, "title": null}},
               "xOffset": {"field": "m", "type": "nominal", "scale": {"domain": ["AFR_AF", "EAS_AF", "EUR_AF", "Pooled_AF", "Equal_Ancestry", "Unequal_Ancestry"], "paddingInner": 0.08, "paddingOuter": 0.04}}
             },
             "layer": [
               {"data": {"name": "boxes"}, "transform": [{"filter": "datum.p === 'C'"}], "mark": {"type": "rule", "color": "#333333", "strokeWidth": 1.6},
                "encoding": {"y": {"field": "lo", "type": "quantitative", "scale": {"domain": [-0.09, 1.91], "nice": false, "zero": false},
                  "axis": {"grid": true, "values": [0, 0.1, 0.2, 0.3, 0.4, 0.5, 0.6, 0.7, 0.8, 0.9, 1, 1.1, 1.2, 1.3, 1.4, 1.5, 1.6, 1.7, 1.8], "labels": false, "ticks": false, "gridWidth": {"condition": {"test": "round(datum.value * 10) % 2 === 0 && datum.value < 1.7", "value": 1.5}, "value": 0.75}, "title": null}},
                  "y2": {"field": "hi"}}},
               {"data": {"name": "boxes"}, "transform": [{"filter": "datum.p === 'C'"}], "mark": {"type": "bar", "stroke": "#333333", "strokeWidth": 1.3},
                "encoding": {"y": {"field": "q1", "type": "quantitative"}, "y2": {"field": "q3"},
                  "fill": {"field": "m", "type": "nominal", "title": "Method", "scale": {"domain": ["AFR_AF", "EAS_AF", "EUR_AF", "Pooled_AF", "Equal_Ancestry", "Unequal_Ancestry"], "range": ["#F8766D", "#B79F00", "#00BA38", "#00BFC4", "#619CFF", "#F564E3"]}}}},
               {"data": {"name": "boxes"}, "transform": [{"filter": "datum.p === 'C'"}], "mark": {"type": "bar", "fill": "#333333", "stroke": "#333333", "strokeWidth": 2.6},
                "encoding": {"y": {"field": "md", "type": "quantitative"}, "y2": {"field": "md"}}},
               {"data": {"name": "outliers"}, "transform": [{"filter": "datum.p === 'C'"}], "mark": {"type": "circle", "color": "#333333", "size": 60, "opacity": 1},
                "encoding": {"y": {"field": "v", "type": "quantitative"}}}
             ]},
            {"data": {"name": "refline"}, "mark": {"type": "rule", "color": "#000000", "strokeWidth": 1.5, "strokeDash": [8, 4]}, "encoding": {"y": {"field": "ref", "type": "quantitative"}}}
          ]}
        ], "spacing": 0, "bounds": "flush"}
      ],
      "spacing": 8
    },
    {
      "hconcat": [
        {"vconcat": [
          {"width": 334, "height": 32, "view": {"fill": "#D9D9D9", "stroke": null}, "data": {"name": "strips"}, "transform": [{"filter": "datum.p === 'D'"}],
           "layer": [
             {"mark": {"type": "text", "font": "Liberation Sans", "fontSize": 16, "color": "#1A1A1A"}, "encoding": {"text": {"field": "label", "type": "nominal"}}},
             {"mark": {"type": "text", "font": "Liberation Sans", "fontSize": 29, "fontWeight": "bold", "align": "left", "dx": 11, "dy": 2, "color": "#000000"}, "encoding": {"x": {"datum": 0, "type": "quantitative", "scale": {"domain": [0, 1], "nice": false, "zero": false}, "axis": null}, "text": {"field": "p", "type": "nominal"}}}
           ]},
          {"width": 334, "height": 286, "layer": [
            {"encoding": {
               "x": {"field": "c", "type": "ordinal", "scale": {"domain": ["0.01", "0.02", "0.05", "0.1", "0.2"], "paddingInner": 0.147, "paddingOuter": 0.1735}, "axis": {"grid": true, "gridWidth": 1.5, "labels": false, "ticks": false, "title": null}},
               "xOffset": {"field": "m", "type": "nominal", "scale": {"domain": ["AFR_AF", "EAS_AF", "EUR_AF", "Pooled_AF", "Equal_Ancestry", "Unequal_Ancestry"], "paddingInner": 0.08, "paddingOuter": 0.04}}
             },
             "layer": [
               {"data": {"name": "boxes"}, "transform": [{"filter": "datum.p === 'D'"}], "mark": {"type": "rule", "color": "#333333", "strokeWidth": 1.6},
                "encoding": {"y": {"field": "lo", "type": "quantitative", "scale": {"domain": [-0.09, 1.91], "nice": false, "zero": false},
                  "axis": {"grid": true, "values": [0, 0.1, 0.2, 0.3, 0.4, 0.5, 0.6, 0.7, 0.8, 0.9, 1, 1.1, 1.2, 1.3, 1.4, 1.5, 1.6, 1.7, 1.8], "labelExpr": "(round(datum.value * 10) % 2 === 0 && datum.value < 1.7) ? format(datum.value, '.1f') : ''", "gridWidth": {"condition": {"test": "round(datum.value * 10) % 2 === 0 && datum.value < 1.7", "value": 1.5}, "value": 0.75}, "tickOpacity": {"condition": {"test": "round(datum.value * 10) % 2 === 0 && datum.value < 1.7", "value": 1}, "value": 0}, "title": null, "labelPadding": 2}},
                  "y2": {"field": "hi"}}},
               {"data": {"name": "boxes"}, "transform": [{"filter": "datum.p === 'D'"}], "mark": {"type": "bar", "stroke": "#333333", "strokeWidth": 1.3},
                "encoding": {"y": {"field": "q1", "type": "quantitative"}, "y2": {"field": "q3"},
                  "fill": {"field": "m", "type": "nominal", "title": "Method", "scale": {"domain": ["AFR_AF", "EAS_AF", "EUR_AF", "Pooled_AF", "Equal_Ancestry", "Unequal_Ancestry"], "range": ["#F8766D", "#B79F00", "#00BA38", "#00BFC4", "#619CFF", "#F564E3"]}}}},
               {"data": {"name": "boxes"}, "transform": [{"filter": "datum.p === 'D'"}], "mark": {"type": "bar", "fill": "#333333", "stroke": "#333333", "strokeWidth": 2.6},
                "encoding": {"y": {"field": "md", "type": "quantitative"}, "y2": {"field": "md"}}},
               {"data": {"name": "outliers"}, "transform": [{"filter": "datum.p === 'D'"}], "mark": {"type": "circle", "color": "#333333", "size": 60, "opacity": 1},
                "encoding": {"y": {"field": "v", "type": "quantitative"}}}
             ]},
            {"data": {"name": "refline"}, "mark": {"type": "rule", "color": "#000000", "strokeWidth": 1.5, "strokeDash": [8, 4]}, "encoding": {"y": {"field": "ref", "type": "quantitative"}}}
          ]}
        ], "spacing": 0, "bounds": "flush"},
        {"vconcat": [
          {"width": 334, "height": 32, "view": {"fill": "#D9D9D9", "stroke": null}, "data": {"name": "strips"}, "transform": [{"filter": "datum.p === 'E'"}],
           "layer": [
             {"mark": {"type": "text", "font": "Liberation Sans", "fontSize": 16, "color": "#1A1A1A"}, "encoding": {"text": {"field": "label", "type": "nominal"}}},
             {"mark": {"type": "text", "font": "Liberation Sans", "fontSize": 29, "fontWeight": "bold", "align": "left", "dx": 11, "dy": 2, "color": "#000000"}, "encoding": {"x": {"datum": 0, "type": "quantitative", "scale": {"domain": [0, 1], "nice": false, "zero": false}, "axis": null}, "text": {"field": "p", "type": "nominal"}}}
           ]},
          {"width": 334, "height": 286, "layer": [
            {"encoding": {
               "x": {"field": "c", "type": "ordinal", "scale": {"domain": ["0.01", "0.02", "0.05", "0.1", "0.2"], "paddingInner": 0.147, "paddingOuter": 0.1735}, "axis": {"grid": true, "gridWidth": 1.5, "labels": false, "ticks": false, "title": null}},
               "xOffset": {"field": "m", "type": "nominal", "scale": {"domain": ["AFR_AF", "EAS_AF", "EUR_AF", "Pooled_AF", "Equal_Ancestry", "Unequal_Ancestry"], "paddingInner": 0.08, "paddingOuter": 0.04}}
             },
             "layer": [
               {"data": {"name": "boxes"}, "transform": [{"filter": "datum.p === 'E'"}], "mark": {"type": "rule", "color": "#333333", "strokeWidth": 1.6},
                "encoding": {"y": {"field": "lo", "type": "quantitative", "scale": {"domain": [-0.09, 1.91], "nice": false, "zero": false},
                  "axis": {"grid": true, "values": [0, 0.1, 0.2, 0.3, 0.4, 0.5, 0.6, 0.7, 0.8, 0.9, 1, 1.1, 1.2, 1.3, 1.4, 1.5, 1.6, 1.7, 1.8], "labels": false, "ticks": false, "gridWidth": {"condition": {"test": "round(datum.value * 10) % 2 === 0 && datum.value < 1.7", "value": 1.5}, "value": 0.75}, "title": null}},
                  "y2": {"field": "hi"}}},
               {"data": {"name": "boxes"}, "transform": [{"filter": "datum.p === 'E'"}], "mark": {"type": "bar", "stroke": "#333333", "strokeWidth": 1.3},
                "encoding": {"y": {"field": "q1", "type": "quantitative"}, "y2": {"field": "q3"},
                  "fill": {"field": "m", "type": "nominal", "title": "Method", "scale": {"domain": ["AFR_AF", "EAS_AF", "EUR_AF", "Pooled_AF", "Equal_Ancestry", "Unequal_Ancestry"], "range": ["#F8766D", "#B79F00", "#00BA38", "#00BFC4", "#619CFF", "#F564E3"]}}}},
               {"data": {"name": "boxes"}, "transform": [{"filter": "datum.p === 'E'"}], "mark": {"type": "bar", "fill": "#333333", "stroke": "#333333", "strokeWidth": 2.6},
                "encoding": {"y": {"field": "md", "type": "quantitative"}, "y2": {"field": "md"}}},
               {"data": {"name": "outliers"}, "transform": [{"filter": "datum.p === 'E'"}], "mark": {"type": "circle", "color": "#333333", "size": 60, "opacity": 1},
                "encoding": {"y": {"field": "v", "type": "quantitative"}}}
             ]},
            {"data": {"name": "refline"}, "mark": {"type": "rule", "color": "#000000", "strokeWidth": 1.5, "strokeDash": [8, 4]}, "encoding": {"y": {"field": "ref", "type": "quantitative"}}}
          ]}
        ], "spacing": 0, "bounds": "flush"},
        {"vconcat": [
          {"width": 334, "height": 32, "view": {"fill": "#D9D9D9", "stroke": null}, "data": {"name": "strips"}, "transform": [{"filter": "datum.p === 'F'"}],
           "layer": [
             {"mark": {"type": "text", "font": "Liberation Sans", "fontSize": 16, "color": "#1A1A1A"}, "encoding": {"text": {"field": "label", "type": "nominal"}}},
             {"mark": {"type": "text", "font": "Liberation Sans", "fontSize": 29, "fontWeight": "bold", "align": "left", "dx": 11, "dy": 2, "color": "#000000"}, "encoding": {"x": {"datum": 0, "type": "quantitative", "scale": {"domain": [0, 1], "nice": false, "zero": false}, "axis": null}, "text": {"field": "p", "type": "nominal"}}}
           ]},
          {"width": 334, "height": 286, "layer": [
            {"encoding": {
               "x": {"field": "c", "type": "ordinal", "scale": {"domain": ["0.01", "0.02", "0.05", "0.1", "0.2"], "paddingInner": 0.147, "paddingOuter": 0.1735}, "axis": {"grid": true, "gridWidth": 1.5, "labels": false, "ticks": false, "title": null}},
               "xOffset": {"field": "m", "type": "nominal", "scale": {"domain": ["AFR_AF", "EAS_AF", "EUR_AF", "Pooled_AF", "Equal_Ancestry", "Unequal_Ancestry"], "paddingInner": 0.08, "paddingOuter": 0.04}}
             },
             "layer": [
               {"data": {"name": "boxes"}, "transform": [{"filter": "datum.p === 'F'"}], "mark": {"type": "rule", "color": "#333333", "strokeWidth": 1.6},
                "encoding": {"y": {"field": "lo", "type": "quantitative", "scale": {"domain": [-0.09, 1.91], "nice": false, "zero": false},
                  "axis": {"grid": true, "values": [0, 0.1, 0.2, 0.3, 0.4, 0.5, 0.6, 0.7, 0.8, 0.9, 1, 1.1, 1.2, 1.3, 1.4, 1.5, 1.6, 1.7, 1.8], "labels": false, "ticks": false, "gridWidth": {"condition": {"test": "round(datum.value * 10) % 2 === 0 && datum.value < 1.7", "value": 1.5}, "value": 0.75}, "title": null}},
                  "y2": {"field": "hi"}}},
               {"data": {"name": "boxes"}, "transform": [{"filter": "datum.p === 'F'"}], "mark": {"type": "bar", "stroke": "#333333", "strokeWidth": 1.3},
                "encoding": {"y": {"field": "q1", "type": "quantitative"}, "y2": {"field": "q3"},
                  "fill": {"field": "m", "type": "nominal", "title": "Method", "scale": {"domain": ["AFR_AF", "EAS_AF", "EUR_AF", "Pooled_AF", "Equal_Ancestry", "Unequal_Ancestry"], "range": ["#F8766D", "#B79F00", "#00BA38", "#00BFC4", "#619CFF", "#F564E3"]}}}},
               {"data": {"name": "boxes"}, "transform": [{"filter": "datum.p === 'F'"}], "mark": {"type": "bar", "fill": "#333333", "stroke": "#333333", "strokeWidth": 2.6},
                "encoding": {"y": {"field": "md", "type": "quantitative"}, "y2": {"field": "md"}}},
               {"data": {"name": "outliers"}, "transform": [{"filter": "datum.p === 'F'"}], "mark": {"type": "circle", "color": "#333333", "size": 60, "opacity": 1},
                "encoding": {"y": {"field": "v", "type": "quantitative"}}}
             ]},
            {"data": {"name": "refline"}, "mark": {"type": "rule", "color": "#000000", "strokeWidth": 1.5, "strokeDash": [8, 4]}, "encoding": {"y": {"field": "ref", "type": "quantitative"}}}
          ]}
        ], "spacing": 0, "bounds": "flush"}
      ],
      "spacing": 8
    },
    {
      "hconcat": [
        {"vconcat": [
          {"width": 334, "height": 32, "view": {"fill": "#D9D9D9", "stroke": null}, "data": {"name": "strips"}, "transform": [{"filter": "datum.p === 'G'"}],
           "layer": [
             {"mark": {"type": "text", "font": "Liberation Sans", "fontSize": 16, "color": "#1A1A1A"}, "encoding": {"text": {"field": "label", "type": "nominal"}}},
             {"mark": {"type": "text", "font": "Liberation Sans", "fontSize": 29, "fontWeight": "bold", "align": "left", "dx": 11, "dy": 2, "color": "#000000"}, "encoding": {"x": {"datum": 0, "type": "quantitative", "scale": {"domain": [0, 1], "nice": false, "zero": false}, "axis": null}, "text": {"field": "p", "type": "nominal"}}}
           ]},
          {"width": 334, "height": 286, "layer": [
            {"encoding": {
               "x": {"field": "c", "type": "ordinal", "scale": {"domain": ["0.01", "0.02", "0.05", "0.1", "0.2"], "paddingInner": 0.147, "paddingOuter": 0.1735}, "axis": {"grid": true, "gridWidth": 1.5, "labelAngle": 0, "labelPadding": 1, "title": null}},
               "xOffset": {"field": "m", "type": "nominal", "scale": {"domain": ["AFR_AF", "EAS_AF", "EUR_AF", "Pooled_AF", "Equal_Ancestry", "Unequal_Ancestry"], "paddingInner": 0.08, "paddingOuter": 0.04}}
             },
             "layer": [
               {"data": {"name": "boxes"}, "transform": [{"filter": "datum.p === 'G'"}], "mark": {"type": "rule", "color": "#333333", "strokeWidth": 1.6},
                "encoding": {"y": {"field": "lo", "type": "quantitative", "scale": {"domain": [-0.09, 1.91], "nice": false, "zero": false},
                  "axis": {"grid": true, "values": [0, 0.1, 0.2, 0.3, 0.4, 0.5, 0.6, 0.7, 0.8, 0.9, 1, 1.1, 1.2, 1.3, 1.4, 1.5, 1.6, 1.7, 1.8], "labelExpr": "(round(datum.value * 10) % 2 === 0 && datum.value < 1.7) ? format(datum.value, '.1f') : ''", "gridWidth": {"condition": {"test": "round(datum.value * 10) % 2 === 0 && datum.value < 1.7", "value": 1.5}, "value": 0.75}, "tickOpacity": {"condition": {"test": "round(datum.value * 10) % 2 === 0 && datum.value < 1.7", "value": 1}, "value": 0}, "title": null, "labelPadding": 2}},
                  "y2": {"field": "hi"}}},
               {"data": {"name": "boxes"}, "transform": [{"filter": "datum.p === 'G'"}], "mark": {"type": "bar", "stroke": "#333333", "strokeWidth": 1.3},
                "encoding": {"y": {"field": "q1", "type": "quantitative"}, "y2": {"field": "q3"},
                  "fill": {"field": "m", "type": "nominal", "title": "Method", "scale": {"domain": ["AFR_AF", "EAS_AF", "EUR_AF", "Pooled_AF", "Equal_Ancestry", "Unequal_Ancestry"], "range": ["#F8766D", "#B79F00", "#00BA38", "#00BFC4", "#619CFF", "#F564E3"]}}}},
               {"data": {"name": "boxes"}, "transform": [{"filter": "datum.p === 'G'"}], "mark": {"type": "bar", "fill": "#333333", "stroke": "#333333", "strokeWidth": 2.6},
                "encoding": {"y": {"field": "md", "type": "quantitative"}, "y2": {"field": "md"}}},
               {"data": {"name": "outliers"}, "transform": [{"filter": "datum.p === 'G'"}], "mark": {"type": "circle", "color": "#333333", "size": 60, "opacity": 1},
                "encoding": {"y": {"field": "v", "type": "quantitative"}}}
             ]},
            {"data": {"name": "refline"}, "mark": {"type": "rule", "color": "#000000", "strokeWidth": 1.5, "strokeDash": [8, 4]}, "encoding": {"y": {"field": "ref", "type": "quantitative"}}}
          ]}
        ], "spacing": 0, "bounds": "flush"},
        {"vconcat": [
          {"width": 334, "height": 32, "view": {"fill": "#D9D9D9", "stroke": null}, "data": {"name": "strips"}, "transform": [{"filter": "datum.p === 'H'"}],
           "layer": [
             {"mark": {"type": "text", "font": "Liberation Sans", "fontSize": 16, "color": "#1A1A1A"}, "encoding": {"text": {"field": "label", "type": "nominal"}}},
             {"mark": {"type": "text", "font": "Liberation Sans", "fontSize": 29, "fontWeight": "bold", "align": "left", "dx": 11, "dy": 2, "color": "#000000"}, "encoding": {"x": {"datum": 0, "type": "quantitative", "scale": {"domain": [0, 1], "nice": false, "zero": false}, "axis": null}, "text": {"field": "p", "type": "nominal"}}}
           ]},
          {"width": 334, "height": 286, "layer": [
            {"encoding": {
               "x": {"field": "c", "type": "ordinal", "scale": {"domain": ["0.01", "0.02", "0.05", "0.1", "0.2"], "paddingInner": 0.147, "paddingOuter": 0.1735}, "axis": {"grid": true, "gridWidth": 1.5, "labelAngle": 0, "labelPadding": 1, "title": "Intended Contamination", "titlePadding": 2}},
               "xOffset": {"field": "m", "type": "nominal", "scale": {"domain": ["AFR_AF", "EAS_AF", "EUR_AF", "Pooled_AF", "Equal_Ancestry", "Unequal_Ancestry"], "paddingInner": 0.08, "paddingOuter": 0.04}}
             },
             "layer": [
               {"data": {"name": "boxes"}, "transform": [{"filter": "datum.p === 'H'"}], "mark": {"type": "rule", "color": "#333333", "strokeWidth": 1.6},
                "encoding": {"y": {"field": "lo", "type": "quantitative", "scale": {"domain": [-0.09, 1.91], "nice": false, "zero": false},
                  "axis": {"grid": true, "values": [0, 0.1, 0.2, 0.3, 0.4, 0.5, 0.6, 0.7, 0.8, 0.9, 1, 1.1, 1.2, 1.3, 1.4, 1.5, 1.6, 1.7, 1.8], "labels": false, "ticks": false, "gridWidth": {"condition": {"test": "round(datum.value * 10) % 2 === 0 && datum.value < 1.7", "value": 1.5}, "value": 0.75}, "title": null}},
                  "y2": {"field": "hi"}}},
               {"data": {"name": "boxes"}, "transform": [{"filter": "datum.p === 'H'"}], "mark": {"type": "bar", "stroke": "#333333", "strokeWidth": 1.3},
                "encoding": {"y": {"field": "q1", "type": "quantitative"}, "y2": {"field": "q3"},
                  "fill": {"field": "m", "type": "nominal", "title": "Method", "scale": {"domain": ["AFR_AF", "EAS_AF", "EUR_AF", "Pooled_AF", "Equal_Ancestry", "Unequal_Ancestry"], "range": ["#F8766D", "#B79F00", "#00BA38", "#00BFC4", "#619CFF", "#F564E3"]}}}},
               {"data": {"name": "boxes"}, "transform": [{"filter": "datum.p === 'H'"}], "mark": {"type": "bar", "fill": "#333333", "stroke": "#333333", "strokeWidth": 2.6},
                "encoding": {"y": {"field": "md", "type": "quantitative"}, "y2": {"field": "md"}}},
               {"data": {"name": "outliers"}, "transform": [{"filter": "datum.p === 'H'"}], "mark": {"type": "circle", "color": "#333333", "size": 60, "opacity": 1},
                "encoding": {"y": {"field": "v", "type": "quantitative"}}}
             ]},
            {"data": {"name": "refline"}, "mark": {"type": "rule", "color": "#000000", "strokeWidth": 1.5, "strokeDash": [8, 4]}, "encoding": {"y": {"field": "ref", "type": "quantitative"}}}
          ]}
        ], "spacing": 0, "bounds": "flush"},
        {"vconcat": [
          {"width": 334, "height": 32, "view": {"fill": "#D9D9D9", "stroke": null}, "data": {"name": "strips"}, "transform": [{"filter": "datum.p === 'I'"}],
           "layer": [
             {"mark": {"type": "text", "font": "Liberation Sans", "fontSize": 16, "color": "#1A1A1A"}, "encoding": {"text": {"field": "label", "type": "nominal"}}},
             {"mark": {"type": "text", "font": "Liberation Sans", "fontSize": 29, "fontWeight": "bold", "align": "left", "dx": 11, "dy": 2, "color": "#000000"}, "encoding": {"x": {"datum": 0, "type": "quantitative", "scale": {"domain": [0, 1], "nice": false, "zero": false}, "axis": null}, "text": {"field": "p", "type": "nominal"}}}
           ]},
          {"width": 334, "height": 286, "layer": [
            {"encoding": {
               "x": {"field": "c", "type": "ordinal", "scale": {"domain": ["0.01", "0.02", "0.05", "0.1", "0.2"], "paddingInner": 0.147, "paddingOuter": 0.1735}, "axis": {"grid": true, "gridWidth": 1.5, "labelAngle": 0, "labelPadding": 1, "title": null}},
               "xOffset": {"field": "m", "type": "nominal", "scale": {"domain": ["AFR_AF", "EAS_AF", "EUR_AF", "Pooled_AF", "Equal_Ancestry", "Unequal_Ancestry"], "paddingInner": 0.08, "paddingOuter": 0.04}}
             },
             "layer": [
               {"data": {"name": "boxes"}, "transform": [{"filter": "datum.p === 'I'"}], "mark": {"type": "rule", "color": "#333333", "strokeWidth": 1.6},
                "encoding": {"y": {"field": "lo", "type": "quantitative", "scale": {"domain": [-0.09, 1.91], "nice": false, "zero": false},
                  "axis": {"grid": true, "values": [0, 0.1, 0.2, 0.3, 0.4, 0.5, 0.6, 0.7, 0.8, 0.9, 1, 1.1, 1.2, 1.3, 1.4, 1.5, 1.6, 1.7, 1.8], "labels": false, "ticks": false, "gridWidth": {"condition": {"test": "round(datum.value * 10) % 2 === 0 && datum.value < 1.7", "value": 1.5}, "value": 0.75}, "title": null}},
                  "y2": {"field": "hi"}}},
               {"data": {"name": "boxes"}, "transform": [{"filter": "datum.p === 'I'"}], "mark": {"type": "bar", "stroke": "#333333", "strokeWidth": 1.3},
                "encoding": {"y": {"field": "q1", "type": "quantitative"}, "y2": {"field": "q3"},
                  "fill": {"field": "m", "type": "nominal", "title": "Method", "scale": {"domain": ["AFR_AF", "EAS_AF", "EUR_AF", "Pooled_AF", "Equal_Ancestry", "Unequal_Ancestry"], "range": ["#F8766D", "#B79F00", "#00BA38", "#00BFC4", "#619CFF", "#F564E3"]}}}},
               {"data": {"name": "boxes"}, "transform": [{"filter": "datum.p === 'I'"}], "mark": {"type": "bar", "fill": "#333333", "stroke": "#333333", "strokeWidth": 2.6},
                "encoding": {"y": {"field": "md", "type": "quantitative"}, "y2": {"field": "md"}}},
               {"data": {"name": "outliers"}, "transform": [{"filter": "datum.p === 'I'"}], "mark": {"type": "circle", "color": "#333333", "size": 60, "opacity": 1},
                "encoding": {"y": {"field": "v", "type": "quantitative"}}}
             ]},
            {"data": {"name": "refline"}, "mark": {"type": "rule", "color": "#000000", "strokeWidth": 1.5, "strokeDash": [8, 4]}, "encoding": {"y": {"field": "ref", "type": "quantitative"}}}
          ]}
        ], "spacing": 0, "bounds": "flush"}
      ],
      "spacing": 8
    }
  ],
  "spacing": 10,
  "config": {
    "view": {"fill": "#EBEBEB", "stroke": null},
    "axis": {
      "domain": false,
      "gridColor": "#FFFFFF",
      "gridOpacity": 1,
      "labelFont": "Liberation Sans",
      "labelFontSize": 19.5,
      "labelColor": "#4D4D4D",
      "labelOverlap": false,
      "tickColor": "#333333",
      "tickSize": 5,
      "tickWidth": 1.1,
      "titleFont": "Liberation Sans",
      "titleFontSize": 25,
      "titleFontWeight": "bold",
      "titleColor": "#000000"
    },
    "legend": {
      "orient": "none",
      "legendX": 1057,
      "legendY": 396,
      "titleFont": "Liberation Sans",
      "titleFontSize": 19.5,
      "titleFontWeight": "normal",
      "titleColor": "#000000",
      "titlePadding": 5,
      "labelFont": "Liberation Sans",
      "labelFontSize": 14.5,
      "labelColor": "#1A1A1A",
      "labelOffset": 6.5,
      "symbolType": "M-0.93,-0.59H0.93V0.59H-0.93Z M-0.93,0H0.93 M0,-0.59V-0.96 M0,0.59V0.96",
      "symbolSize": 729,
      "symbolStrokeColor": "#333333",
      "symbolStrokeWidth": 1.2,
      "symbolOpacity": 1,
      "rowPadding": 0.5
    }
  }
}
